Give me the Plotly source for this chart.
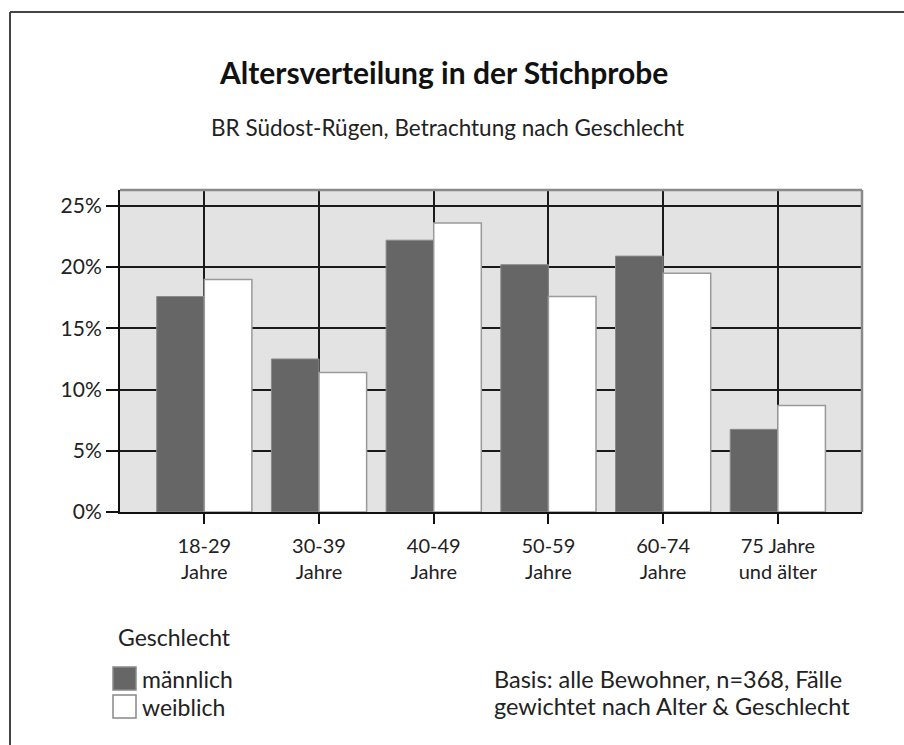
import plotly.graph_objects as go

categories = ["18-29<br>Jahre", "30-39<br>Jahre", "40-49<br>Jahre", "50-59<br>Jahre", "60-74<br>Jahre", "75 Jahre<br>und älter"]
series_names = ["männlich", "weiblich"]
maennlich = [17.6, 12.5, 22.2, 20.2, 20.9, 6.75]
weiblich = [19.0, 11.4, 23.6, 17.6, 19.5, 8.7]
y_ticks = [0, 5, 10, 15, 20, 25]
y_ticktext = [f"{v}%" for v in y_ticks]

FONT = "Lato"
W, H = 904, 745
L, R, T, B = 120, 42, 190, 233
pw, ph = W - L - R, H - T - B

def px(x):
    return (x - L) / pw

def py(y):
    return (H - B - y) / ph

MALE_COL, MALE_LINE = "#666666", "#8a8a8a"
FEM_COL, FEM_LINE = "#ffffff", "#9a9a9a"

xs = list(range(len(categories)))
fig = go.Figure()
fig.add_trace(go.Bar(x=xs, y=maennlich, name=series_names[0], showlegend=False,
                     marker=dict(color=MALE_COL, line=dict(color=MALE_LINE, width=1))))
fig.add_trace(go.Bar(x=xs, y=weiblich, name=series_names[1], showlegend=False,
                     marker=dict(color=FEM_COL, line=dict(color=FEM_LINE, width=1.5))))

fig.update_layout(
    width=W, height=H, autosize=False,
    margin=dict(l=L, r=R, t=T, b=B),
    paper_bgcolor="white", plot_bgcolor="#e3e3e3",
    barmode="group", bargap=0.17, bargroupgap=0,
    font=dict(family=FONT, size=21, color="#222222"),
    xaxis=dict(range=[-0.735, len(categories) - 1 + 0.734],
               tickmode="array", tickvals=xs, ticktext=categories,
               showgrid=True, gridcolor="#1a1a1a", gridwidth=1.5,
               showline=True, linecolor="#111111", linewidth=2,
               ticks="outside", ticklen=10, tickwidth=2, tickcolor="#111111",
               ticklabelstandoff=5,
               tickfont=dict(size=20), zeroline=False, fixedrange=True),
    yaxis=dict(range=[0, 26.3], tickmode="array", tickvals=y_ticks, ticktext=y_ticktext,
               showgrid=True, gridcolor="#1a1a1a", gridwidth=1.5,
               showline=True, linecolor="#111111", linewidth=2,
               ticks="outside", ticklen=12, tickwidth=2, tickcolor="#111111",
               tickfont=dict(size=21), zeroline=False, fixedrange=True),
)

# plot border top/right (gray)
fig.add_shape(type="line", xref="paper", yref="paper", x0=0, x1=1, y0=1, y1=1,
              line=dict(color="#8a8a8a", width=2.5))
fig.add_shape(type="line", xref="paper", yref="paper", x0=1, x1=1, y0=0, y1=1,
              line=dict(color="#8a8a8a", width=2.5))
# outer frame
fig.add_shape(type="line", xref="paper", yref="paper", x0=px(10), x1=px(904), y0=py(12), y1=py(12),
              line=dict(color="#444444", width=2))
fig.add_shape(type="line", xref="paper", yref="paper", x0=px(10), x1=px(10), y0=py(12), y1=py(745),
              line=dict(color="#444444", width=2))

# legend (custom, larger swatches as in the original)
fig.add_annotation(text="Geschlecht", xref="paper", yref="paper", x=px(116), y=py(637),
                   xanchor="left", yanchor="middle", showarrow=False, font=dict(size=23))
for i, (nm, fc, lc) in enumerate([(series_names[0], MALE_COL, MALE_LINE), (series_names[1], FEM_COL, "#888888")]):
    top = 667 + i * 28
    fig.add_shape(type="rect", xref="paper", yref="paper", x0=px(113), x1=px(136),
                  y0=py(top), y1=py(top + 23), fillcolor=fc, line=dict(color=lc, width=1.5))
    fig.add_annotation(text=nm, xref="paper", yref="paper", x=px(140), y=py(top + 12),
                       xanchor="left", yanchor="middle", showarrow=False, font=dict(size=23))

fig.add_annotation(text="<b>Altersverteilung in der Stichprobe</b>", xref="paper", yref="paper",
                   x=px(443), y=py(72), xanchor="center", yanchor="middle", showarrow=False,
                   font=dict(size=30, color="#111111"))
fig.add_annotation(text="BR Südost-Rügen, Betrachtung nach Geschlecht", xref="paper", yref="paper",
                   x=px(447), y=py(127), xanchor="center", yanchor="middle", showarrow=False,
                   font=dict(size=22.5, color="#222222"))
for txt, yy in [("Basis: alle Bewohner, n=368, Fälle", 679), ("gewichtet nach Alter & Geschlecht", 706)]:
    fig.add_annotation(text=txt, xref="paper", yref="paper", x=px(492), y=py(yy),
                       xanchor="left", yanchor="middle", align="left", showarrow=False,
                       font=dict(size=23.5, color="#222222"))

fig.write_html("out.html", config={"displayModeBar": False},
               post_script="document.body.style.margin='0px';")
